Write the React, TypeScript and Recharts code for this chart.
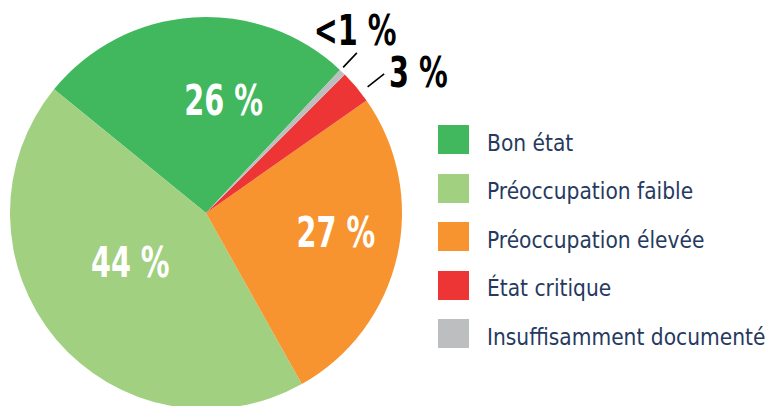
import React from 'react';
import { PieChart, Pie, Cell, Legend } from 'recharts';

const categories = ['Bon état', 'Préoccupation faible', 'Préoccupation élevée', 'État critique', 'Insuffisamment documenté'];
const values = [26.1, 44.0, 26.6, 2.75, 0.55];
const pctLabels = ['26 %', '44 %', '27 %', '3 %', '<1 %'];
const colors = ['#41b85d', '#a1d080', '#f7942f', '#ee3535', '#bdbec0'];

const data = categories.map((name, i) => ({ name, value: values[i] }));

const labelLayout = [
  { r: 0.58, da: -12.8, inside: true },
  { r: 0.46, da: -7.2, inside: true },
  { r: 0.67, da: 4.5, inside: true },
  { r: 59, da: -6.4, inside: false, l1: 9, l2: 30, lda: -2 },
  { r: 40, da: 4.9, inside: false, l1: 4, l2: 24, lda: 0.8 },
];

const RAD = Math.PI / 180;
const pt = (cx: number, cy: number, r: number, a: number) => ({ x: cx + r * Math.cos(a * RAD), y: cy - r * Math.sin(a * RAD) });

const FONT_BIG = "'DejaVu Sans Condensed', 'DejaVu Sans', sans-serif";

const renderLabel = (props: any) => {
  const { cx, cy, midAngle, outerRadius, index } = props;
  const L = labelLayout[index];
  const dist = L.inside ? outerRadius * L.r : outerRadius + L.r;
  const p = pt(cx, cy, dist, midAngle + L.da);
  const text = (
    <text
      x={0}
      y={0}
      transform={`translate(${p.x},${p.y}) scale(0.76,1)`}
      textAnchor="middle"
      dominantBaseline="central"
      fill={L.inside ? '#ffffff' : '#000000'}
      fontFamily={FONT_BIG}
      fontWeight="bold"
      fontSize={42}
    >
      {pctLabels[index]}
    </text>
  );
  if (L.inside) return <g key={`l${index}`}>{text}</g>;
  const a = pt(cx, cy, outerRadius + (L.l1 as number), midAngle + (L.lda as number));
  const b = pt(cx, cy, outerRadius + (L.l2 as number), midAngle + (L.lda as number));
  return (
    <g key={`l${index}`}>
      <line x1={a.x} y1={a.y} x2={b.x} y2={b.y} stroke="#000" strokeWidth={1.6} />
      {text}
    </g>
  );
};

const renderLegend = () => (
  <div style={{ position: 'relative' }}>
    {categories.map((name, i) => (
      <div key={name} style={{ position: 'absolute', left: 0, top: i * 48.5, height: 29, display: 'flex', alignItems: 'center' }}>
        <div style={{ width: 31, height: 29, background: colors[i] }} />
        <span
          style={{
            marginLeft: 18,
            fontFamily: "'DejaVu Sans Condensed', 'DejaVu Sans', sans-serif",
            fontSize: 22.5,
            color: '#263a60',
            whiteSpace: 'nowrap',
            position: 'relative',
            top: 3,
          }}
        >
          {name}
        </span>
      </div>
    ))}
  </div>
);

export default function App() {
  return (
    <div style={{ position: 'absolute', left: 0, top: 0, width: 772, height: 406, background: '#fff' }}>
      <PieChart width={772} height={406} margin={{ top: 0, right: 0, bottom: 0, left: 0 }}>
        <Pie
          data={data}
          dataKey="value"
          nameKey="name"
          cx={206}
          cy={213}
          outerRadius={196}
          startAngle={46.9}
          endAngle={406.9}
          stroke="none"
          isAnimationActive={false}
          label={renderLabel}
          labelLine={false}
        >
          {data.map((d, i) => (
            <Cell key={d.name} fill={colors[i]} />
          ))}
        </Pie>
        <Legend
          content={renderLegend}
          wrapperStyle={{ left: 438, top: 125, width: 334, height: 250 }}
        />
      </PieChart>
    </div>
  );
}
